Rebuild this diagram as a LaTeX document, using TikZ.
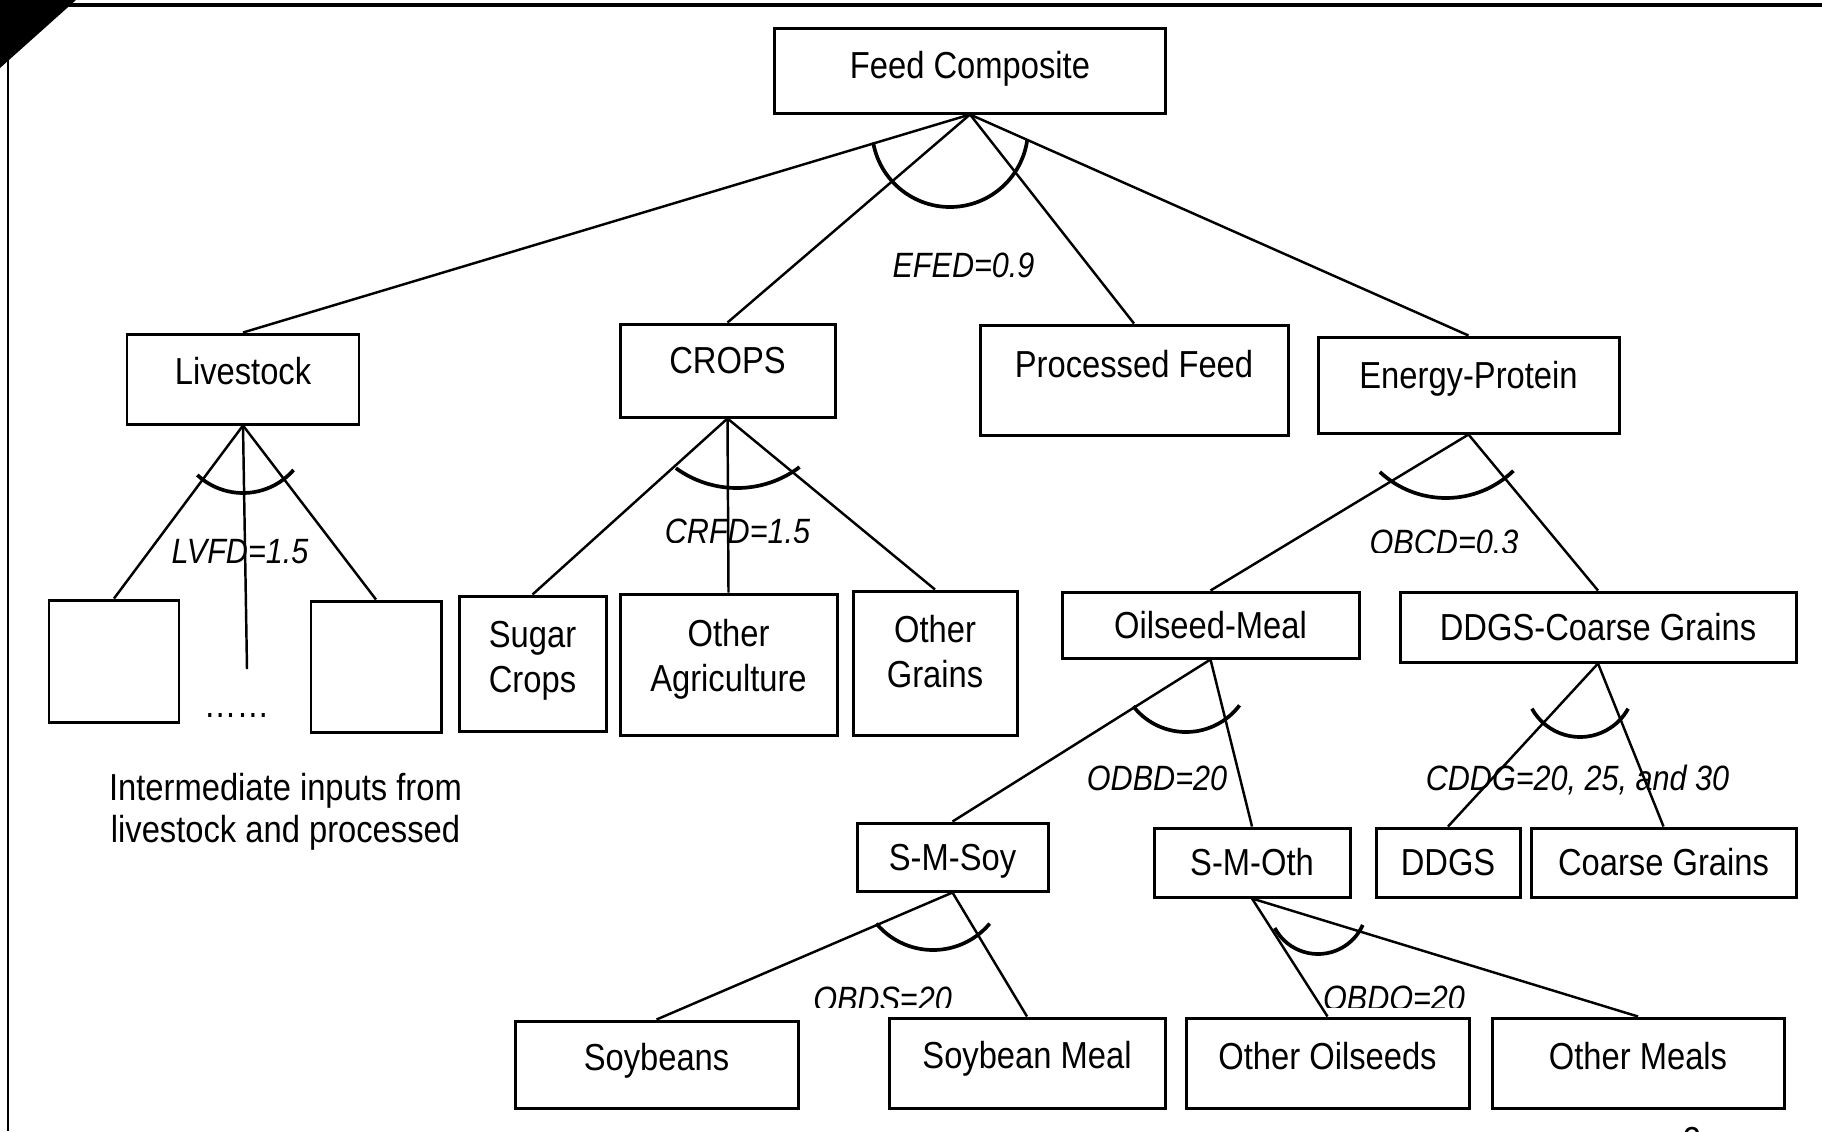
\documentclass[tikz,border=0pt]{standalone}
\usepackage{fontspec}
\setmainfont{Liberation Sans}[FakeStretch=0.87]
\newcommand{\twolines}[2]{\begin{tabular}[t]{@{}c@{}}#1\\#2\end{tabular}}

\begin{document}
\begin{tikzpicture}[
  font=\fontsize{10.7}{12.8}\selectfont,
  box/.style={draw, line width=0.85pt, inner sep=0pt, text height=2.65mm, text depth=#1},
  box/.default=0pt,
  link/.style={line width=0.7pt},
  nest/.style={line width=1.05pt},
  elas/.style={font=\fontsize{10}{12}\selectfont\itshape, inner sep=0pt, text height=2.5mm, text depth=0pt}]

  \useasboundingbox (0,0) rectangle (18.22,-11.31);

  % page corner and frame
  \fill (0,0) -- (0.76,0) -- (0,-0.68) -- cycle;
  \draw [line width=0.9pt] (0.67,-0.05) -- (18.22,-0.05);
  \draw [line width=0.5pt] (0.083,-0.57) -- (0.083,-11.31);

  % top of the tree
  \node [box=1mm, minimum width=3.91cm, minimum height=0.85cm] (fc) at (9.70,-0.705) {Feed Composite};

  \node [box=1.5mm, minimum width=2.32cm, minimum height=0.90cm] (lv) at (2.43,-3.79) {Livestock};
  \node [box=2mm, minimum width=2.15cm, minimum height=0.93cm] (cr) at (7.275,-3.705) {CROPS};
  \node [box=3.1mm, minimum width=3.08cm, minimum height=1.10cm] (pf) at (11.34,-3.80) {Processed Feed};
  \node [box=2mm, minimum width=3.01cm, minimum height=0.96cm] (ep) at (14.685,-3.85) {Energy-Protein};

  % livestock nest
  \node [box, minimum width=1.30cm, minimum height=1.22cm] (lv1) at (1.14,-6.61) {};
  \node [box, minimum width=1.30cm, minimum height=1.31cm] (lv2) at (3.76,-6.665) {};
  \coordinate (lvm) at (2.47,-6.69);
  \node [anchor=base] (dots) at (2.365,-7.17) {……};
  \node [anchor=base, font=\fontsize{10.7}{12.2}\selectfont] (inp) at (2.855,-8.00)
    {\twolines{Intermediate inputs from}{livestock and processed}};

  % crops nest
  \node [box=5.8mm, minimum width=1.47cm, minimum height=1.35cm] (sc) at (5.325,-6.635) {\twolines{Sugar}{Crops}};
  \node [box=6.2mm, minimum width=2.17cm, minimum height=1.41cm] (oa) at (7.285,-6.645) {\twolines{Other}{Agriculture}};
  \node [box=6.7mm, minimum width=1.64cm, minimum height=1.44cm] (og) at (9.35,-6.63) {\twolines{Other}{Grains}};

  % energy-protein nest
  \node [box, minimum width=2.97cm, minimum height=0.66cm] (om) at (12.105,-6.25) {Oilseed-Meal};
  \node [box, minimum width=3.96cm, minimum height=0.70cm] (dc) at (15.98,-6.27) {DDGS-Coarse Grains};

  \node [box, minimum width=1.91cm, minimum height=0.68cm] (ss) at (9.525,-8.57) {S-M-Soy};
  \node [box, minimum width=1.96cm, minimum height=0.69cm] (so) at (12.52,-8.625) {S-M-Oth};
  \node [box, minimum width=1.44cm, minimum height=0.69cm] (dd) at (14.48,-8.625) {DDGS};
  \node [box, minimum width=2.65cm, minimum height=0.69cm] (cg) at (16.635,-8.625) {Coarse Grains};

  \node [box=1.4mm, minimum width=2.83cm, minimum height=0.87cm] (sb) at (6.565,-10.645) {Soybeans};
  \node [box=1.5mm, minimum width=2.76cm, minimum height=0.90cm] (sm) at (10.27,-10.63) {Soybean Meal};
  \node [box=1.4mm, minimum width=2.83cm, minimum height=0.90cm] (oo) at (13.275,-10.63) {Other Oilseeds};
  \node [box=1.4mm, minimum width=2.92cm, minimum height=0.90cm] (ol) at (16.38,-10.63) {Other Meals};

  % elasticities
  \node [elas] (efed) at (9.635,-2.645) {EFED=0.9};
  \node [elas] (lvfd) at (2.40,-5.505) {LVFD=1.5};
  \begin{scope}
    \clip (6.5,-5.0) rectangle (8.3,-5.42);
    \node [elas] (crfd) at (7.375,-5.31) {CRFD=1.5};
  \end{scope}
  \begin{scope}
    \clip (13.5,-5.1) rectangle (15.4,-5.52);
    \node [elas] (obcd) at (14.44,-5.415) {OBCD=0.3};
  \end{scope}
  \node [elas] (odbd) at (11.57,-7.775) {ODBD=20};
  \node [elas] (cddg) at (15.775,-7.775) {CDDG=20, 25, and 30};
  \begin{scope}
    \clip (8.0,-9.7) rectangle (14.8,-10.07);
    \node [elas] (obds) at (8.825,-9.985) {OBDS=20};
    \node [elas] (obdo) at (13.94,-9.975) {OBDO=20};
  \end{scope}

  % branches
  \foreach \a/\b in {fc/lv, fc/cr, fc/pf, fc/ep, lv/lv1, lv/lv2, cr/sc, cr/oa, cr/og,
                     ep/om, ep/dc, om/ss, om/so, dc/dd, dc/cg, ss/sb, ss/sm, so/oo, so/ol}
    \draw [link] (\a.south) -- (\b.north);
  \draw [link] (lv.south) -- (lvm);

  % nest arcs
  \draw [nest] (9.50,-1.29) ++(190:0.78) arc (190:352:0.78);
  \draw [nest] (2.43,-4.26) ++(227:0.67) arc (227:319:0.67);
  \draw [nest] (7.37,-3.84) ++(234:1.04) arc (234:307:1.04);
  \draw [nest] (14.46,-4.01) ++(227:0.97) arc (227:314:0.97);
  \draw [nest] (11.86,-6.65) ++(218:0.67) arc (218:323:0.67);
  \draw [nest] (15.80,-6.82) ++(209:0.55) arc (209:331:0.55);
  \draw [nest] (9.33,-8.76) ++(220:0.74) arc (220:320:0.74);
  \draw [nest] (13.18,-9.05) ++(208:0.49) arc (208:336:0.49);

  % page number, cut by the page edge
  \node [anchor=base] (pg) at (16.92,-11.535) {2};
\end{tikzpicture}
\end{document}
